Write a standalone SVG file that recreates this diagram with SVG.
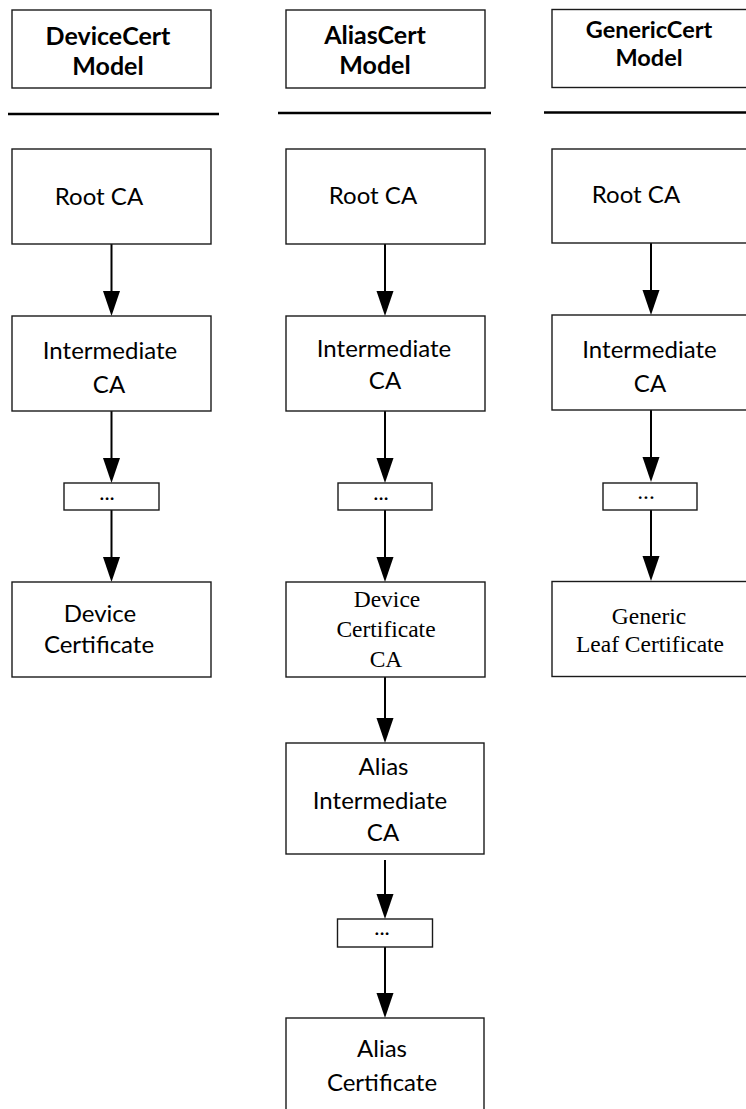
<svg xmlns="http://www.w3.org/2000/svg" width="746" height="1109" viewBox="0 0 746 1109">
<style>
.box{fill:#fff;stroke:#1a1a1a;stroke-width:1.4}
.sep{stroke:#000;stroke-width:2.6}
.shaft{stroke:#000;stroke-width:2}
.head{fill:#000}
.t{font-family:Lato,"Open Sans","Liberation Sans",sans-serif;font-size:24px;fill:#000;text-anchor:middle}
.h{font-family:Lato,"Open Sans","Liberation Sans",sans-serif;font-size:25px;font-weight:bold;fill:#000;text-anchor:middle}
.s{font-family:"Liberation Serif","Times New Roman",serif;font-size:23.5px;fill:#000;text-anchor:middle}
.d{font-family:Lato,"Liberation Sans",sans-serif;font-size:22px;fill:#000;text-anchor:middle}
</style>
<rect width="746" height="1109" fill="#fff"/>
<g id="separators">
<line class="sep" x1="8" y1="114" x2="219" y2="114"/>
<line class="sep" x1="278" y1="113" x2="491" y2="113"/>
<line class="sep" x1="544" y1="112.5" x2="746" y2="112.5"/>
</g>
<g id="connectors">
<line class="shaft" x1="111.5" y1="244" x2="111.5" y2="295"/><polygon class="head" points="103,291 120,291 111.5,316"/>
<line class="shaft" x1="111.5" y1="411" x2="111.5" y2="462"/><polygon class="head" points="103,458 120,458 111.5,483"/>
<line class="shaft" x1="111.5" y1="510" x2="111.5" y2="561"/><polygon class="head" points="103,557 120,557 111.5,582"/>
<line class="shaft" x1="385" y1="244" x2="385" y2="295"/><polygon class="head" points="376.5,291 393.5,291 385,316"/>
<line class="shaft" x1="385" y1="411" x2="385" y2="462"/><polygon class="head" points="376.5,458 393.5,458 385,483"/>
<line class="shaft" x1="385" y1="510" x2="385" y2="561"/><polygon class="head" points="376.5,557 393.5,557 385,582"/>
<line class="shaft" x1="385" y1="677" x2="385" y2="722"/><polygon class="head" points="376.5,718 393.5,718 385,743"/>
<line class="shaft" x1="385" y1="860" x2="385" y2="898"/><polygon class="head" points="376.5,894 393.5,894 385,919"/>
<line class="shaft" x1="385" y1="947" x2="385" y2="997"/><polygon class="head" points="376.5,993 393.5,993 385,1018"/>
<line class="shaft" x1="651" y1="243" x2="651" y2="294"/><polygon class="head" points="642.5,290 659.5,290 651,315"/>
<line class="shaft" x1="651" y1="410" x2="651" y2="461"/><polygon class="head" points="642.5,457 659.5,457 651,482"/>
<line class="shaft" x1="651" y1="510" x2="651" y2="560"/><polygon class="head" points="642.5,556 659.5,556 651,581"/>
</g>
<g id="devicecert-model">
<rect class="box" x="12" y="10" width="199" height="78"/>
<text class="h" x="108" y="45">DeviceCert</text>
<text class="h" x="108" y="75">Model</text>
</g>
<g id="aliascert-model">
<rect class="box" x="286" y="10" width="199" height="78"/>
<text class="h" x="375" y="44">AliasCert</text>
<text class="h" x="375" y="74">Model</text>
</g>
<g id="genericcert-model">
<rect class="box" x="552" y="9.5" width="220" height="78"/>
<text class="h" x="649" y="38" style="font-size:23.5px">GenericCert</text>
<text class="h" x="649" y="66" style="font-size:23.5px">Model</text>
</g>
<g id="d-root">
<rect class="box" x="12" y="149" width="199" height="95"/>
<text class="t" x="99" y="205">Root CA</text>
</g>
<g id="d-inter">
<rect class="box" x="12" y="316" width="199" height="95"/>
<text class="t" x="110" y="359">Intermediate</text>
<text class="t" x="109" y="393">CA</text>
</g>
<g id="d-dots">
<rect class="box" x="64" y="483" width="95" height="27"/>
<text class="d" x="107" y="500">...</text>
</g>
<g id="d-leaf">
<rect class="box" x="12" y="582" width="199" height="95"/>
<text class="t" x="100" y="622">Device</text>
<text class="t" x="99" y="653">Certificate</text>
</g>
<g id="a-root">
<rect class="box" x="286" y="149" width="199" height="95"/>
<text class="t" x="373" y="204">Root CA</text>
</g>
<g id="a-inter">
<rect class="box" x="286" y="316" width="199" height="95"/>
<text class="t" x="384" y="357">Intermediate</text>
<text class="t" x="385" y="389">CA</text>
</g>
<g id="a-dots">
<rect class="box" x="338" y="483" width="94" height="27"/>
<text class="d" x="381" y="500">...</text>
</g>
<g id="a-devca">
<rect class="box" x="286" y="582" width="199" height="95"/>
<text class="s" x="387" y="607">Device</text>
<text class="s" x="386" y="637">Certificate</text>
<text class="s" x="386" y="667">CA</text>
</g>
<g id="a-aliasinter">
<rect class="box" x="286" y="743" width="198" height="111"/>
<text class="t" x="383.5" y="775">Alias</text>
<text class="t" x="380" y="809">Intermediate</text>
<text class="t" x="383" y="841">CA</text>
</g>
<g id="a-dots2">
<rect class="box" x="337.5" y="919" width="95" height="28"/>
<text class="d" x="382" y="935">...</text>
</g>
<g id="a-aliascert">
<rect class="box" x="286" y="1018" width="198" height="110"/>
<text class="t" x="382" y="1057">Alias</text>
<text class="t" x="382" y="1091">Certificate</text>
</g>
<g id="g-root">
<rect class="box" x="552" y="149" width="220" height="94"/>
<text class="t" x="636" y="203">Root CA</text>
</g>
<g id="g-inter">
<rect class="box" x="552" y="315" width="220" height="95"/>
<text class="t" x="649.5" y="358">Intermediate</text>
<text class="t" x="650" y="392">CA</text>
</g>
<g id="g-dots">
<rect class="box" x="603" y="483" width="94" height="27"/>
<text class="s" x="646" y="499">...</text>
</g>
<g id="g-leaf">
<rect class="box" x="552" y="581.5" width="220" height="95"/>
<text class="s" x="649" y="624">Generic</text>
<text class="s" x="650" y="652">Leaf Certificate</text>
</g>
</svg>
